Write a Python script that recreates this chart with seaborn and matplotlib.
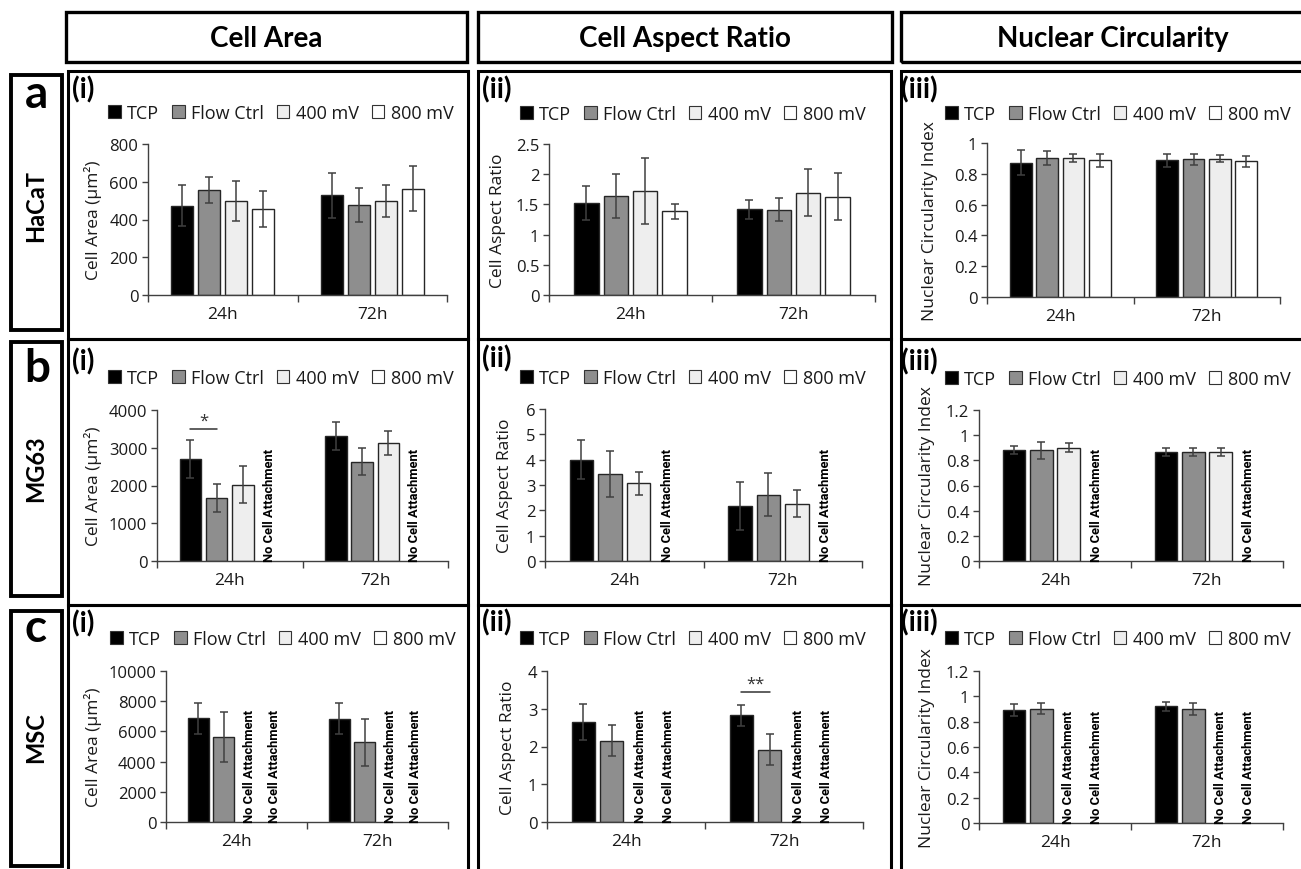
import numpy as np
import pandas as pd
import matplotlib.pyplot as plt
import matplotlib.patches as mpatches
import seaborn as sns

sns.set_theme(style="white")
plt.rcParams['font.family'] = ['Open Sans', 'DejaVu Sans']

W, H = 1301, 870

times = ["24h", "72h"]
groups = ["TCP", "Flow Ctrl", "400 mV", "800 mV"]
colours = {"TCP": "#000000", "Flow Ctrl": "#8e8e8e", "400 mV": "#eeeeee", "800 mV": "#ffffff"}

col_titles = ["Cell Area", "Cell Aspect Ratio", "Nuclear Circularity"]
row_letters = ["a", "b", "c"]
row_cells = ["HaCaT", "MG63", "MSC"]
panel_tags = ["(i)", "(ii)", "(iii)"]
ylabels = ["Cell Area (µm²)", "Cell Aspect Ratio", "Nuclear Circularity Index"]

# values per panel: 24h [TCP, Flow Ctrl, 400 mV, 800 mV] then 72h [...]
nan = np.nan
hacat_area = [473, 556, 498, 454, 528, 477, 498, 564]
hacat_area_sd = [110, 67, 104, 95, 120, 90, 83, 118]
hacat_ar = [1.53, 1.64, 1.72, 1.385, 1.42, 1.41, 1.69, 1.63]
hacat_ar_sd = [0.28, 0.36, 0.55, 0.125, 0.16, 0.19, 0.39, 0.39]
hacat_nci = [0.872, 0.903, 0.903, 0.887, 0.887, 0.894, 0.898, 0.881]
hacat_nci_sd = [0.083, 0.046, 0.025, 0.04, 0.04, 0.036, 0.024, 0.036]

mg63_area = [2705, 1665, 2026, nan, 3313, 2634, 3119, nan]
mg63_area_sd = [506, 375, 485, nan, 375, 352, 320, nan]
mg63_ar = [3.99, 3.44, 3.06, nan, 2.17, 2.62, 2.26, nan]
mg63_ar_sd = [0.77, 0.9, 0.45, nan, 0.94, 0.86, 0.53, nan]
mg63_nci = [0.882, 0.879, 0.90, nan, 0.866, 0.866, 0.866, nan]
mg63_nci_sd = [0.03, 0.07, 0.035, nan, 0.035, 0.034, 0.03, nan]

msc_area = [6879, 5604, nan, nan, 6835, 5275, nan, nan]
msc_area_sd = [1030, 1660, nan, nan, 1030, 1570, nan, nan]
msc_ar = [2.64, 2.15, nan, nan, 2.83, 1.92, nan, nan]
msc_ar_sd = [0.48, 0.41, nan, nan, 0.28, 0.40, nan, nan]
msc_nci = [0.891, 0.902, nan, nan, 0.920, 0.902, nan, nan]
msc_nci_sd = [0.045, 0.043, nan, nan, 0.038, 0.047, nan, nan]

yticks_area_hacat = [0, 200, 400, 600, 800]
yticks_ar_hacat = [0, 0.5, 1, 1.5, 2, 2.5]
yticks_nci_hacat = [0, 0.2, 0.4, 0.6, 0.8, 1]
yticks_area_mg63 = [0, 1000, 2000, 3000, 4000]
yticks_ar_mg63 = [0, 1, 2, 3, 4, 5, 6]
yticks_nci_12 = [0, 0.2, 0.4, 0.6, 0.8, 1, 1.2]
yticks_area_msc = [0, 2000, 4000, 6000, 8000, 10000]
yticks_ar_msc = [0, 1, 2, 3, 4]

# significance: (time, group a, group b, height, stars)
mg63_area_sig = ("24h", "TCP", "Flow Ctrl", 3500, "*")
msc_ar_sig = ("72h", "TCP", "Flow Ctrl", 3.45, "**")

panels = [
    [(hacat_area, hacat_area_sd, yticks_area_hacat, None),
     (hacat_ar, hacat_ar_sd, yticks_ar_hacat, None),
     (hacat_nci, hacat_nci_sd, yticks_nci_hacat, None)],
    [(mg63_area, mg63_area_sd, yticks_area_mg63, mg63_area_sig),
     (mg63_ar, mg63_ar_sd, yticks_ar_mg63, None),
     (mg63_nci, mg63_nci_sd, yticks_nci_12, None)],
    [(msc_area, msc_area_sd, yticks_area_msc, None),
     (msc_ar, msc_ar_sd, yticks_ar_msc, msc_ar_sig),
     (msc_nci, msc_nci_sd, yticks_nci_12, None)],
]

# layout in pixels (left, top, right, bottom)
axes_px = [
    [(148, 145, 447, 296), (549, 145, 875, 296), (987, 144, 1280, 298)],
    [(157, 411, 448, 562), (545, 410, 862, 562), (979, 411, 1283, 562)],
    [(166, 672, 448, 823), (547, 672, 863, 823), (979, 672, 1283, 824)],
]
ylabel_x = [[93, 498, 930], [93, 505, 927], [93, 508, 927]]
legend_pos = [[(108, 114), (520, 115), (945, 115)],
              [(108, 379), (520, 379), (945, 380)],
              [(110, 640), (520, 640), (945, 640)]]
tag_pos = [[(72, 76), (482, 76), (901, 76)],
           [(72, 348), (482, 345), (901, 348)],
           [(72, 610), (482, 609), (901, 609)]]
col_x = [(68, 468), (478, 891), (901, 1325)]
row_y = [(72, 340), (340, 606), (606, 875)]
head_x = [(66, 467), (478, 892), (901, 1325)]
label_boxes = [(76, 331), (343, 597), (612, 867)]
letter_base = [(37, 108), (37, 382), (36, 642)]
cell_centre = [(36, 206), (36, 469), (36, 738)]

fig = plt.figure(figsize=(W / 100, H / 100), dpi=100)


def fx(x):
    return x / W


def fy(y):
    return 1 - y / H


def box(x0, y0, x1, y1, lw):
    fig.add_artist(mpatches.Rectangle((fx(x0), fy(y1)), (x1 - x0) / W, (y1 - y0) / H,
                                      transform=fig.transFigure, fill=False,
                                      ec="black", lw=lw, clip_on=False))


def draw_panel(ax, means, sds, ticks, sig):
    df = pd.DataFrame({"time": np.repeat(times, len(groups)),
                       "group": groups * len(times),
                       "value": means, "sd": sds})
    df["missing"] = df["value"].isna()
    df["plot_value"] = df["value"].fillna(0)

    sns.barplot(data=df, x="time", y="plot_value", hue="group", order=times,
                hue_order=groups, palette=colours, saturation=1, width=0.72, gap=0.18,
                errorbar=None, edgecolor="#262626", linewidth=1.0, legend=False, ax=ax)

    bars = sorted(ax.patches, key=lambda p: p.get_x())
    centres = {}
    for bar, (_, row) in zip(bars, df.iterrows()):
        xc = bar.get_x() + bar.get_width() / 2
        centres[(row["time"], row["group"])] = xc
        if row["missing"]:
            bar.set_visible(False)
            ax.text(xc, 0, "No Cell Attachment", rotation=90, ha="center", va="bottom",
                    fontsize=9.3, fontweight="bold", family=["Roboto", "DejaVu Sans"],
                    color="black")
        else:
            ax.errorbar(xc, row["value"], yerr=row["sd"], fmt="none", ecolor="#404040",
                        elinewidth=1.1, capsize=3, capthick=1.1, zorder=5)

    if sig is not None:
        t, g1, g2, h, stars = sig
        x1, x2 = centres[(t, g1)], centres[(t, g2)]
        ax.plot([x1, x2], [h, h], color="#333333", lw=1.1)
        ax.text((x1 + x2) / 2, h, stars, ha="center", va="bottom", fontsize=12,
                color="#333333")

    ax.set_xlim(-0.5, 1.5)
    ax.set_ylim(0, ticks[-1])
    ax.set_yticks(ticks)
    ax.set_yticklabels([f"{v:g}" for v in ticks])
    ax.set_xticks([-0.5, 0.5, 1.5])
    ax.set_xticklabels([])
    ax.set_xticks([0, 1], minor=True)
    ax.set_xticklabels(times, minor=True)
    ax.set_xlabel("")
    ax.tick_params(axis="x", which="major", bottom=True, length=5, width=1,
                   direction="out", color="#404040")
    ax.tick_params(axis="x", which="minor", bottom=True, length=0, pad=8,
                   labelsize=12.5, labelcolor="#1a1a1a")
    ax.tick_params(axis="y", left=True, length=4, width=1, direction="out",
                   color="#404040", pad=3, labelsize=12, labelcolor="#1a1a1a")
    for side in ["top", "right"]:
        ax.spines[side].set_visible(False)
    for side in ["left", "bottom"]:
        ax.spines[side].set_color("#404040")
        ax.spines[side].set_linewidth(1)
    ax.set_facecolor("none")


for c, title in enumerate(col_titles):
    x0, x1 = head_x[c]
    box(x0, 13, x1, 63, 2.4)
    fig.text(fx((x0 + x1) / 2), fy(39), title, ha="center", va="center", fontsize=20,
             fontweight="bold", family=["Lato", "DejaVu Sans"], color="black")

for r in range(3):
    y0, y1 = label_boxes[r]
    box(11, y0, 62, y1, 2.8)
    lx, ly = letter_base[r]
    fig.text(fx(lx), fy(ly), row_letters[r], ha="center", va="baseline", fontsize=33,
             fontweight="bold", family=["Lato", "DejaVu Sans"], color="black")
    cx, cy = cell_centre[r]
    fig.text(fx(cx), fy(cy), row_cells[r], ha="center", va="center", rotation=90,
             fontsize=17, fontweight="bold", family=["Lato", "DejaVu Sans"], color="black")

    for c in range(3):
        box(col_x[c][0], row_y[r][0], col_x[c][1], row_y[r][1], 2.2)
        left, top, right, bottom = axes_px[r][c]
        ax = fig.add_axes([fx(left), fy(bottom), (right - left) / W, (bottom - top) / H])
        means, sds, ticks, sig = panels[r][c]
        draw_panel(ax, means, sds, ticks, sig)
        ax.set_ylabel(ylabels[c], fontsize=12.5, color="#1a1a1a", va="center")
        ax.yaxis.set_label_coords(fx(ylabel_x[r][c]), fy((top + bottom) / 2),
                                  transform=fig.transFigure)

        handles = [mpatches.Patch(facecolor=colours[g], edgecolor="#333333", lw=0.8, label=g)
                   for g in groups]
        lx, ly = legend_pos[r][c]
        ax.legend(handles=handles, loc="center left", bbox_to_anchor=(fx(lx), fy(ly)),
                  bbox_transform=fig.transFigure, ncol=4, frameon=False, fontsize=13,
                  handlelength=0.7, handleheight=0.7, handletextpad=0.35,
                  columnspacing=0.72, borderpad=0, borderaxespad=0, labelcolor="#1a1a1a")

        tx, ty = tag_pos[r][c]
        fig.text(fx(tx), fy(ty), panel_tags[c], ha="left", va="top", fontsize=20,
                 fontweight="bold", family=["Lato", "DejaVu Sans"], color="black")

fig.savefig("out.png", dpi=100)
